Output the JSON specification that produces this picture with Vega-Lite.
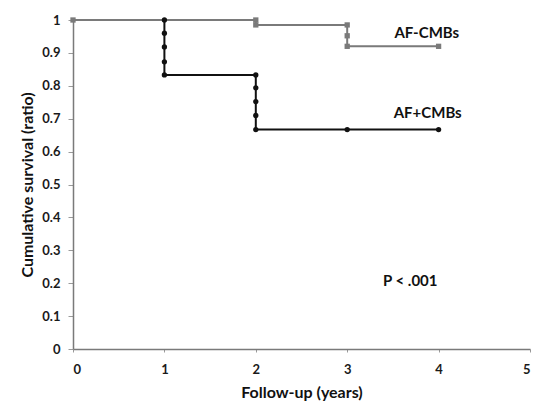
{
  "$schema": "https://vega.github.io/schema/vega-lite/v6.json",
  "autosize": "none",
  "width": 457,
  "height": 329,
  "padding": {"left": 73, "top": 20, "right": 10, "bottom": 54},
  "background": "white",
  "config": {
    "view": {"stroke": null},
    "font": "Lato",
    "axis": {
      "domainColor": "#7a7a7a",
      "domainWidth": 1.5,
      "tickColor": "#9a9a9a",
      "tickSize": 5,
      "grid": false,
      "labelFont": "Lato",
      "labelFontWeight": "bold",
      "labelFontSize": 13,
      "labelColor": "#1a1a1a",
      "titleFont": "Lato",
      "titleFontWeight": "bold",
      "titleFontSize": 16,
      "titleColor": "#111"
    }
  },
  "datasets": {
    "lines": [
      {"group": "AF+CMBs", "ord": 1, "year": 0, "surv": 1},
      {"group": "AF+CMBs", "ord": 2, "year": 1, "surv": 1},
      {"group": "AF+CMBs", "ord": 3, "year": 1, "surv": 0.833},
      {"group": "AF+CMBs", "ord": 4, "year": 2, "surv": 0.833},
      {"group": "AF+CMBs", "ord": 5, "year": 2, "surv": 0.667},
      {"group": "AF+CMBs", "ord": 6, "year": 4, "surv": 0.667},
      {"group": "AF-CMBs", "ord": 1, "year": 0, "surv": 1},
      {"group": "AF-CMBs", "ord": 2, "year": 2, "surv": 1},
      {"group": "AF-CMBs", "ord": 3, "year": 2, "surv": 0.985},
      {"group": "AF-CMBs", "ord": 4, "year": 3, "surv": 0.985},
      {"group": "AF-CMBs", "ord": 5, "year": 3, "surv": 0.92},
      {"group": "AF-CMBs", "ord": 6, "year": 4, "surv": 0.92}
    ],
    "marks": [
      {"group": "AF+CMBs", "year": 1, "surv": 1},
      {"group": "AF+CMBs", "year": 1, "surv": 0.96},
      {"group": "AF+CMBs", "year": 1, "surv": 0.918},
      {"group": "AF+CMBs", "year": 1, "surv": 0.873},
      {"group": "AF+CMBs", "year": 1, "surv": 0.833},
      {"group": "AF+CMBs", "year": 2, "surv": 0.833},
      {"group": "AF+CMBs", "year": 2, "surv": 0.794},
      {"group": "AF+CMBs", "year": 2, "surv": 0.752},
      {"group": "AF+CMBs", "year": 2, "surv": 0.71},
      {"group": "AF+CMBs", "year": 2, "surv": 0.667},
      {"group": "AF+CMBs", "year": 3, "surv": 0.667},
      {"group": "AF+CMBs", "year": 4, "surv": 0.667},
      {"group": "AF-CMBs", "year": 0, "surv": 1},
      {"group": "AF-CMBs", "year": 2, "surv": 1},
      {"group": "AF-CMBs", "year": 2, "surv": 0.985},
      {"group": "AF-CMBs", "year": 3, "surv": 0.985},
      {"group": "AF-CMBs", "year": 3, "surv": 0.952},
      {"group": "AF-CMBs", "year": 3, "surv": 0.92},
      {"group": "AF-CMBs", "year": 4, "surv": 0.92}
    ],
    "labels": [
      {"year": 3.87, "surv": 0.962, "text": "AF-CMBs"},
      {"year": 3.88, "surv": 0.717, "text": "AF+CMBs"},
      {"year": 3.69, "surv": 0.207, "text": "P < .001"}
    ]
  },
  "layer": [
    {
      "data": {"name": "lines"},
      "mark": {"type": "line", "strokeWidth": 2},
      "encoding": {
        "x": {"field": "year", "type": "quantitative",
          "scale": {"domain": [0, 5], "nice": false},
          "axis": {"title": "Follow-up (years)", "tickCount": 5, "labelExpr": "format(datum.value, 'd')", "tickSize": 3, "labelPadding": 11, "titlePadding": 8}},
        "y": {"field": "surv", "type": "quantitative",
          "scale": {"domain": [0, 1], "nice": false},
          "axis": {"title": "Cumulative survival (ratio)", "tickCount": 10, "labelExpr": "format(datum.value, '~g')", "labelOverlap": false, "labelPadding": 8, "titlePadding": 6}},
        "order": {"field": "ord", "type": "quantitative"},
        "detail": {"field": "group"},
        "color": {"field": "group", "type": "nominal",
          "scale": {"domain": ["AF+CMBs", "AF-CMBs"], "range": ["#111111", "#7a7a7a"]},
          "legend": null}
      }
    },
    {
      "data": {"name": "marks"},
      "mark": {"type": "point", "filled": true, "opacity": 1},
      "encoding": {
        "x": {"field": "year", "type": "quantitative"},
        "y": {"field": "surv", "type": "quantitative"},
        "color": {"field": "group", "type": "nominal", "legend": null},
        "shape": {"field": "group", "type": "nominal",
          "scale": {"domain": ["AF+CMBs", "AF-CMBs"], "range": ["circle", "square"]},
          "legend": null},
        "size": {"value": 28}
      }
    },
    {
      "data": {"name": "labels"},
      "mark": {"type": "text", "font": "Lato", "fontWeight": "bold", "fontSize": 15, "color": "#111", "align": "center", "baseline": "middle"},
      "encoding": {
        "x": {"field": "year", "type": "quantitative"},
        "y": {"field": "surv", "type": "quantitative"},
        "text": {"field": "text"}
      }
    }
  ]
}
